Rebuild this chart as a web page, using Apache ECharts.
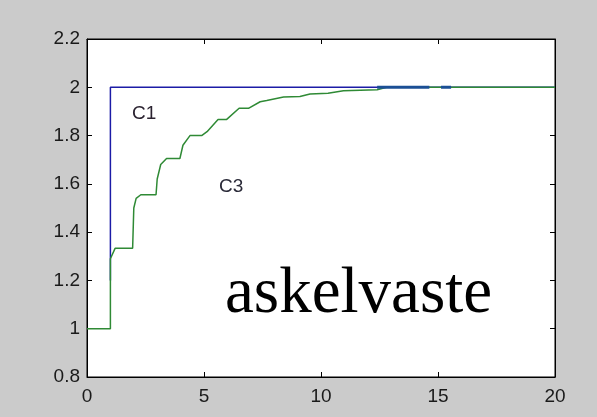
<!DOCTYPE html>
<html>
<head>
<meta charset="utf-8">
<script src="https://cdn.jsdelivr.net/npm/echarts@6/dist/echarts.min.js"></script>
<style>
html,body{margin:0;padding:0;background:#cbcbcb;}
#chart{width:597px;height:417px;}
</style>
</head>
<body>
<div id="chart"></div>
<script>
// X ticks and Y ticks
const xTicks = [0, 5, 10, 15, 20];
const yTicks = [0.8, 1, 1.2, 1.4, 1.6, 1.8, 2, 2.2];

// C1 response (blue)
const c1X = [1, 1, 20];
const c1Y = [1.2, 2, 2];

// Overlap artefacts where blue shows over green near y = 2
const c1OverlapA_X = [12.4, 14.63];
const c1OverlapA_Y = [2, 2];
const c1OverlapB_X = [15.13, 15.56];
const c1OverlapB_Y = [2, 2];

// C3 response (green, staircase)
const c3X = [0, 1, 1, 1.2, 1.95, 1.98, 2.0, 2.1, 2.3, 2.95, 3.0, 3.15, 3.4, 3.97, 4.1, 4.4, 4.9, 5.13, 5.6, 5.97, 6.5, 6.9, 7.4, 7.68, 8.4, 9.1, 9.53, 10.3, 10.96, 12.4, 12.8, 20];
const c3Y = [1, 1, 1.29, 1.333, 1.333, 1.34, 1.5, 1.54, 1.555, 1.555, 1.62, 1.68, 1.705, 1.705, 1.76, 1.80, 1.80, 1.816, 1.867, 1.867, 1.913, 1.913, 1.94, 1.945, 1.96, 1.962, 1.972, 1.975, 1.986, 1.99, 2, 2];

// Text annotations
const labelC1 = 'C1';
const labelC3 = 'C3';
const labelBig = 'askelvaste';

const zip = (xs, ys) => xs.map((x, i) => [x, ys[i]]);

const chart = echarts.init(document.getElementById('chart'), null, {renderer: 'canvas'});
const fmtY = v => String(+(+v).toFixed(1));
const axisCommon = {
  axisLine: {show: true, onZero: false, lineStyle: {color: '#000', width: 1}},
  axisTick: {show: true, inside: true, length: 5, lineStyle: {color: '#000'}},
  splitLine: {show: false}
};
const labelFont = {color: '#1a1a1a', fontFamily: 'Liberation Sans, Arial, sans-serif', fontSize: 19};

chart.setOption({
  backgroundColor: '#cbcbcb',
  animation: false,
  grid: {left: 87, right: 42, top: 39, bottom: 40, show: true, backgroundColor: '#ffffff', borderColor: '#000', borderWidth: 1},
  xAxis: [
    Object.assign({type: 'value', min: xTicks[0], max: xTicks[xTicks.length - 1], interval: 5, position: 'bottom',
      axisLabel: Object.assign({margin: 10}, labelFont)}, axisCommon),
    Object.assign({type: 'value', min: xTicks[0], max: xTicks[xTicks.length - 1], interval: 5, position: 'top',
      axisLabel: {show: false}}, axisCommon)
  ],
  yAxis: [
    Object.assign({type: 'value', min: yTicks[0], max: yTicks[yTicks.length - 1], interval: 0.2, position: 'left',
      axisLabel: Object.assign({margin: 7, formatter: fmtY}, labelFont)}, axisCommon),
    Object.assign({type: 'value', min: yTicks[0], max: yTicks[yTicks.length - 1], interval: 0.2, position: 'right',
      axisLabel: {show: false}}, axisCommon)
  ],
  series: [
    {name: 'C1', type: 'line', data: zip(c1X, c1Y), showSymbol: false, lineStyle: {color: '#1c1ca6', width: 1.5}, z: 2},
    {name: 'C3', type: 'line', data: zip(c3X, c3Y), showSymbol: false, lineStyle: {color: '#2f8a35', width: 1.5}, z: 3},
    {name: 'C1a', type: 'line', data: zip(c1OverlapA_X, c1OverlapA_Y), showSymbol: false, lineStyle: {color: '#1b4f95', width: 3}, z: 4},
    {name: 'C1b', type: 'line', data: zip(c1OverlapB_X, c1OverlapB_Y), showSymbol: false, lineStyle: {color: '#1b4f95', width: 3}, z: 4}
  ],
  graphic: [
    {type: 'text', left: 132, top: 104, style: {text: labelC1, fill: '#2a2230', font: '19px "Liberation Sans", Arial, sans-serif'}},
    {type: 'text', left: 219, top: 177, style: {text: labelC3, fill: '#2a2a38', font: '19px "Liberation Sans", Arial, sans-serif'}},
    {type: 'text', left: 225, top: 262, style: {text: labelBig, fill: '#000', font: '65px "Liberation Serif", "Times New Roman", serif'}}
  ]
});
</script>
</body>
</html>
